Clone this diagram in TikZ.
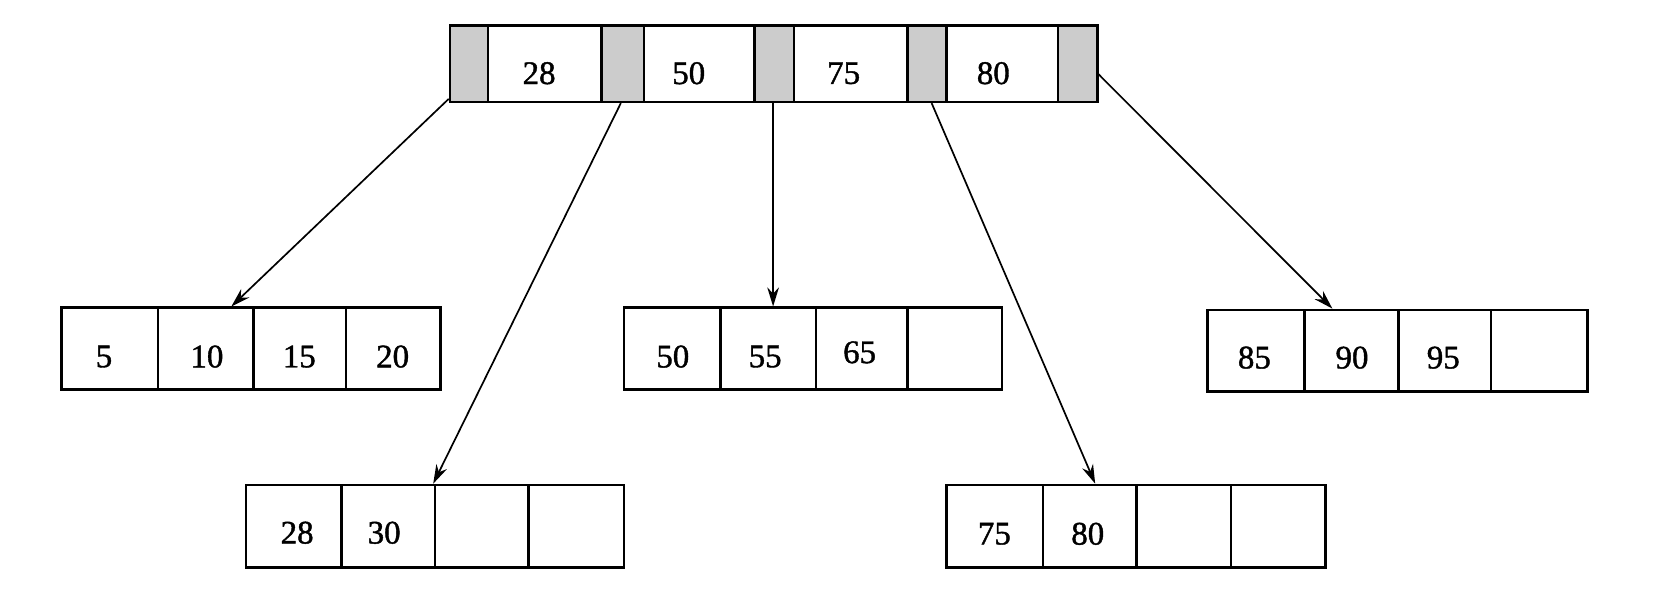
\documentclass[tikz,border=0pt]{standalone}
\usepackage{fontspec}
\setmainfont{Liberation Serif}
\newfontfamily\lblfont[FakeBold=1.2]{Liberation Serif}
\usetikzlibrary{arrows.meta}
\tikzset{
  cellst/.style={draw=black, line width=1.2pt, rectangle, inner sep=0pt, fill=white},
  keycell/.style={fill=white},
  ptrcell/.style={fill=black!20},
  lbl/.style={inner sep=0pt, font=\lblfont\fontsize{15.5}{17}\selectfont},
  ptr/.style={draw=black, line width=0.8pt, -{Stealth[length=9pt,width=5.5pt]}},
}
\newcommand\bcell[6]{% name, x1, x2, y1, y2, style
  \node[cellst,#6, minimum width={(#3-#2)*0.5pt}, minimum height={(#5-#4)*0.5pt}] (#1) at ({(#2+#3)/2},{(#4+#5)/2}) {};}
\begin{document}
\begin{tikzpicture}[x=0.5pt,y=-0.5pt]
\useasboundingbox (0,0) rectangle (1568,558);
% root node
\bcell{g1}{424}{460}{24}{96}{ptrcell}
\bcell{k1}{460}{567}{24}{96}{keycell}
\bcell{g2}{567}{607}{24}{96}{ptrcell}
\bcell{k2}{607}{711}{24}{96}{keycell}
\bcell{g3}{711}{748}{24}{96}{ptrcell}
\bcell{k3}{748}{855}{24}{96}{keycell}
\bcell{g4}{855}{892}{24}{96}{ptrcell}
\bcell{k4}{892}{997}{24}{96}{keycell}
\bcell{g5}{997}{1034}{24}{96}{ptrcell}
\node[lbl] (t1) at (508,69) {28};
\node[lbl] (t2) at (649,69) {50};
\node[lbl] (t3) at (795,69) {75};
\node[lbl] (t4) at (936,69) {80};
% leaf 1
\bcell{l1a}{58}{149}{290}{367}{keycell}
\bcell{l1b}{149}{239}{290}{367}{keycell}
\bcell{l1c}{239}{326}{290}{367}{keycell}
\bcell{l1d}{326}{415}{290}{367}{keycell}
\node[lbl] (a1) at (98,336) {5};
\node[lbl] (a2) at (195,336) {10};
\node[lbl] (a3) at (282,336) {15};
\node[lbl] (a4) at (370,336) {20};
% leaf 2
\bcell{l2a}{232}{322}{457}{535}{keycell}
\bcell{l2b}{322}{410}{457}{535}{keycell}
\bcell{l2c}{410}{498}{457}{535}{keycell}
\bcell{l2d}{498}{588}{457}{535}{keycell}
\node[lbl] (b1) at (280,502) {28};
\node[lbl] (b2) at (362,502) {30};
% leaf 3
\bcell{l3a}{588}{679}{290}{367}{keycell}
\bcell{l3b}{679}{769}{290}{367}{keycell}
\bcell{l3c}{769}{855}{290}{367}{keycell}
\bcell{l3d}{855}{944}{290}{367}{keycell}
\node[lbl] (c1) at (634,336) {50};
\node[lbl] (c2) at (721,336) {55};
\node[lbl] (c3) at (810,332) {65};
% leaf 4
\bcell{l4a}{892}{983}{457}{535}{keycell}
\bcell{l4b}{983}{1071}{457}{535}{keycell}
\bcell{l4c}{1071}{1160}{457}{535}{keycell}
\bcell{l4d}{1160}{1249}{457}{535}{keycell}
\node[lbl] (d1) at (937,503) {75};
\node[lbl] (d2) at (1025,503) {80};
% leaf 5
\bcell{l5a}{1138}{1229}{292}{369}{keycell}
\bcell{l5b}{1229}{1318}{292}{369}{keycell}
\bcell{l5c}{1318}{1405}{292}{369}{keycell}
\bcell{l5d}{1405}{1496}{292}{369}{keycell}
\node[lbl] (e1) at (1182,337) {85};
\node[lbl] (e2) at (1274,337) {90};
\node[lbl] (e3) at (1360,337) {95};
% pointers
\draw[ptr] ([yshift=2pt]g1.south west) -- ([xshift=12pt]l1b.north);
\draw[ptr] ([xshift=-1pt]g2.south) -- ([xshift=-1.5pt]l2b.north east);
\draw[ptr] ([xshift=-0.5pt]g3.south) -- ([xshift=-0.5pt]g3.south |- l3b.north);
\draw[ptr] ([xshift=2.2pt]g4.south) -- ([xshift=2.5pt]l4b.north);
\draw[ptr] ([yshift=-5pt]g5.east) -- ([xshift=-9pt]l5b.north);
\end{tikzpicture}
\end{document}
